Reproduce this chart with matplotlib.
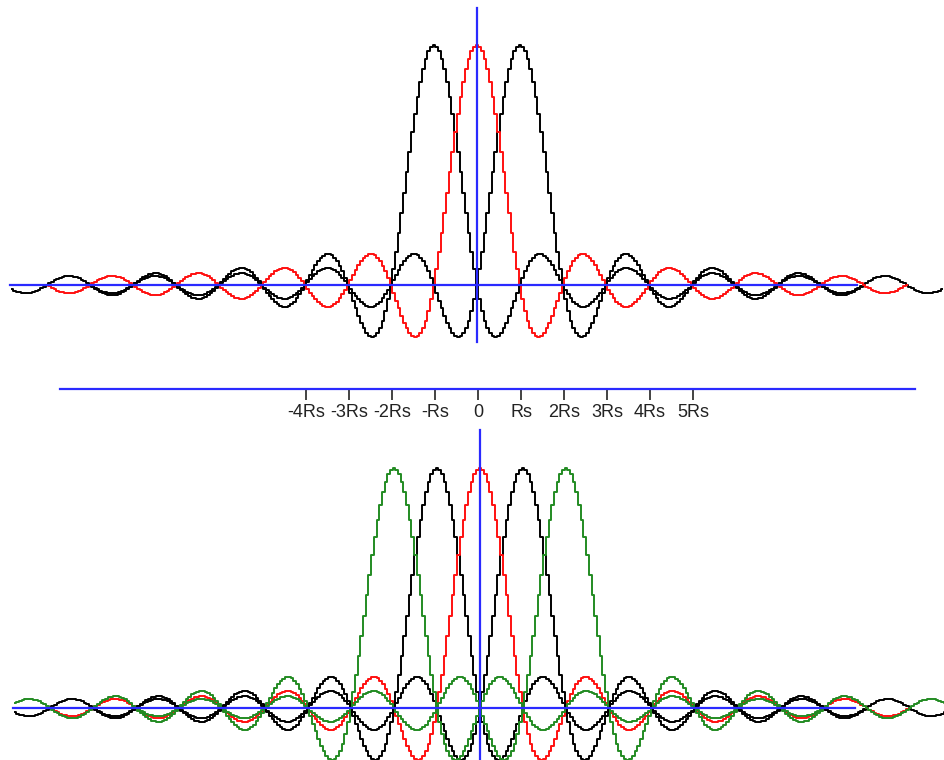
import numpy as np
import matplotlib
matplotlib.use('Agg')
import matplotlib.pyplot as plt

# pulse centres in units of Rs
top_red = [0]
top_black = [-1, 1]
bottom_red = [0]
bottom_black = [-1, 1]
bottom_green = [-2, 2]

tick_pos = [-4, -3, -2, -1, 0, 1, 2, 3, 4, 5]
tick_labels = ['-4Rs', '-3Rs', '-2Rs', '-Rs', '0', 'Rs', '2Rs', '3Rs', '4Rs', '5Rs']

span = 10          # each pulse is drawn over centre +/- 10 Rs
window = 10.86     # visible part of the picture
samples = 16       # samples per Rs, gives the stair look

W, H = 944, 760
px = 43.0          # pixels per Rs
amp = 240.0        # pixels per unit amplitude

BLUE = '#2a2aff'
RED = '#ff1010'
GREEN = '#228b22'


def pulse(ax, centre, color):
    t = np.arange(centre - span, centre + span + 1e-9, 1.0 / samples)
    t = t[np.abs(t) <= window]
    ax.plot(t, np.sinc(t - centre), color=color, lw=1.4,
            drawstyle='steps-mid', zorder=2)


def make_axes(fig, row0, row1, centre_px, base_row):
    ax = fig.add_axes([0, 1 - row1 / H, 1, (row1 - row0) / H])
    ax.set_xlim(-centre_px / px, (W - centre_px) / px)
    ax.set_ylim((base_row - row1) / amp, (base_row - row0) / amp)
    ax.axis('off')
    return ax


fig = plt.figure(figsize=(W / 100, H / 100), dpi=100)

# top panel
ax1 = make_axes(fig, 0, 375, 477, 285)
for c in top_black:
    pulse(ax1, c, 'black')
for c in top_red:
    pulse(ax1, c, RED)
ax1.plot([-window, (857 - 477) / px], [0, 0], color=BLUE, lw=1.6, zorder=3)
ax1.plot([0, 0], [(285 - 342) / amp, (285 - 8) / amp], color=BLUE, lw=1.6, zorder=3)

# bottom panel
ax2 = make_axes(fig, 425, 760, 480, 708)
for c in bottom_black:
    pulse(ax2, c, 'black')
for c in bottom_red:
    pulse(ax2, c, RED)
for c in bottom_green:
    pulse(ax2, c, GREEN)
ax2.plot([-window, (855 - 480) / px], [0, 0], color=BLUE, lw=1.6, zorder=3)
ax2.plot([0, 0], [-1, (708 - 430) / amp], color=BLUE, lw=1.6, zorder=3)

# scale in the middle
ax3 = fig.add_axes([60 / W, 1 - 389 / H, (915 - 60) / W, 0.001])
ax3.set_xlim((60 - 478) / px, (915 - 478) / px)
for s in ['top', 'left', 'right']:
    ax3.spines[s].set_visible(False)
ax3.spines['bottom'].set_color(BLUE)
ax3.spines['bottom'].set_linewidth(1.6)
ax3.set_yticks([])
ax3.set_xticks(tick_pos)
ax3.set_xticklabels(tick_labels, fontfamily='Liberation Sans', fontsize=13,
                    color='#222222')
ax3.tick_params(axis='x', direction='out', length=8, width=1.2,
                color='#222222', pad=3)
ax3.patch.set_visible(False)

fig.savefig('out.png', dpi=100)
